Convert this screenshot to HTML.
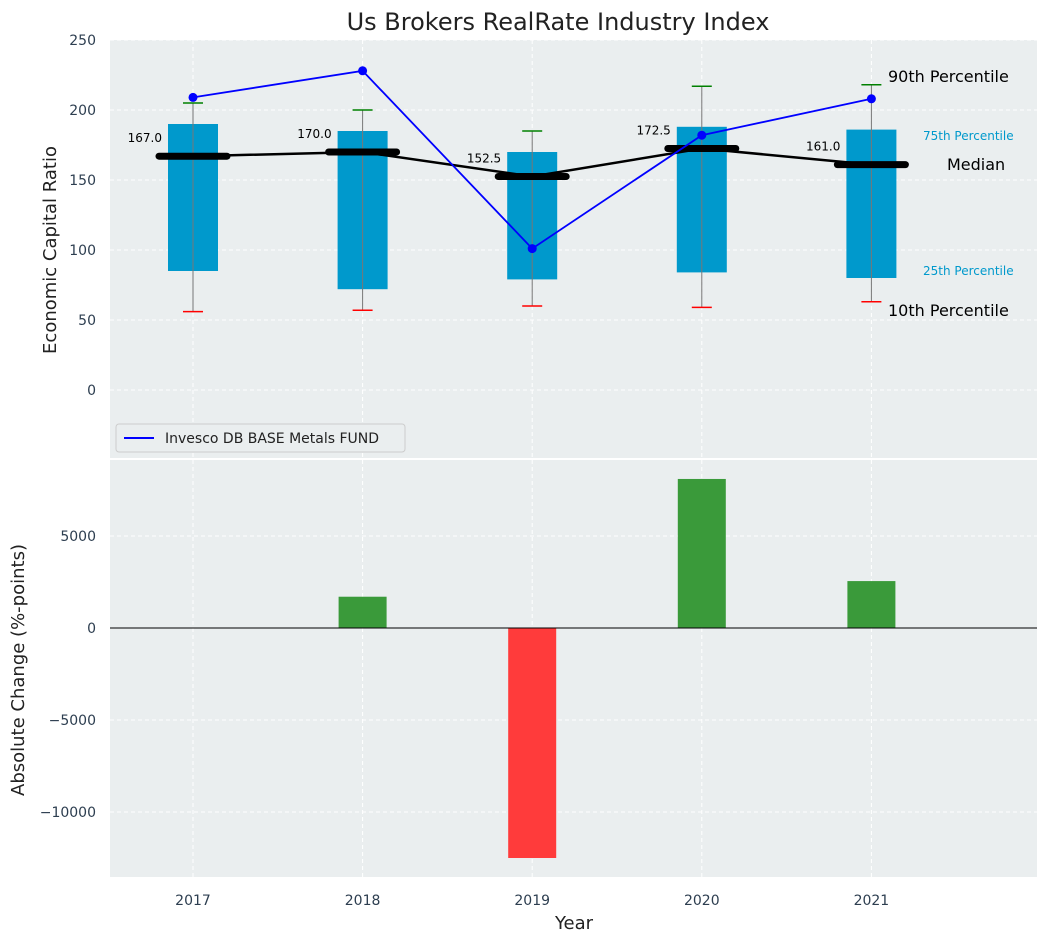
<!DOCTYPE html>
<html><head><meta charset="utf-8"><style>
body{margin:0;background:#fff;font-family:"Liberation Sans","DejaVu Sans",sans-serif;}
</style></head><body>
<svg id="chart" width="1048" height="942" xmlns="http://www.w3.org/2000/svg" font-family="DejaVu Sans, Liberation Sans, sans-serif">
<text x="558" y="30" font-size="24" text-anchor="middle" fill="#222">Us Brokers RealRate Industry Index</text>
<rect x="110" y="40" width="927" height="418" fill="#eaeeef"/>
<rect x="110" y="460" width="927" height="417" fill="#eaeeef"/>
<g id="topg"></g><g id="botg"></g>
<text x="56" y="250" font-size="18" fill="#222" text-anchor="middle" transform="rotate(-90 56 250)">Economic Capital Ratio</text>
<text x="24" y="670" font-size="18" fill="#222" text-anchor="middle" transform="rotate(-90 24 670)">Absolute Change (%-points)</text>
<text x="574" y="929" font-size="18" fill="#222" text-anchor="middle">Year</text>
<g>
<rect x="116" y="424" width="289" height="28" rx="3" fill="#eaeeef" stroke="#ccc"/>
<line x1="124" y1="438" x2="154" y2="438" stroke="blue" stroke-width="2"/>
<text x="165" y="443" font-size="14" fill="#222">Invesco DB BASE Metals FUND</text>
</g>
<text x="888" y="82" font-size="16" fill="#000">90th Percentile</text>
<text x="923" y="140" font-size="12" fill="#0099cc">75th Percentile</text>
<text x="947" y="170" font-size="16" fill="#000">Median</text>
<text x="923" y="275" font-size="12" fill="#0099cc">25th Percentile</text>
<text x="888" y="316" font-size="16" fill="#000">10th Percentile</text>
</svg>
<script>
const years=[2017,2018,2019,2020,2021];
const q1=[85,72,79,84,80];
const q3=[190,185,170,188,186];
const median=[167,170,152.5,172.5,161];
const p10=[56,57,60,59,63];
const p90=[205,200,185,217,218];
const fund=[209,228,101,182,208];
const change=[0,1700,-12500,8100,2550];
const topTicks=[0,50,100,150,200,250];
const botTicks=[-10000,-5000,0,5000];
const NS="http://www.w3.org/2000/svg";
const X=y=>193+(y-2017)*169.6;
const YT=v=>390-v*1.4;
const YB=v=>628-v*0.0184;
function mk(t,a,p,txt){const e=document.createElementNS(NS,t);for(const k in a)e.setAttribute(k,a[k]);if(txt!=null)e.textContent=txt;p.appendChild(e);return e;}
const topG=document.getElementById('topg'),botG=document.getElementById('botg');
topTicks.forEach(t=>{
 const g=mk('line',{x1:110,x2:1037,y1:YT(t),y2:YT(t),stroke:'#fff','stroke-dasharray':'4,3','stroke-width':1},topG);
 
 
 const l=mk('text',{x:96,y:YT(t)+5,'font-size':14,fill:'#2d3e50','text-anchor':'end'},topG,t);
 
 
});
botTicks.forEach(t=>{
 const g=mk('line',{x1:110,x2:1037,y1:YB(t),y2:YB(t),stroke:'#fff','stroke-dasharray':'4,3','stroke-width':1},botG);
 
 
 const l=mk('text',{x:96,y:YB(t)+5,'font-size':14,fill:'#2d3e50','text-anchor':'end'},botG,String(t).replace('-','\u2212'));
 
 
});
years.forEach((y,i)=>{
 [[40,458,topG],[460,877,botG]].forEach(([a,b,p])=>{const g=mk('line',{x1:X(y),x2:X(y),y1:a,y2:b,stroke:'#fff','stroke-dasharray':'4,3'},p);
 
 });
 const l=mk('text',{x:X(y),y:905,'font-size':14,fill:'#2d3e50','text-anchor':'middle'},botG,y);
 
 
});
years.forEach((y,i)=>{
 const x=X(y);
 const b=mk('rect',{x:x-25,y:YT(q3[i]),width:50,height:YT(q1[i])-YT(q3[i]),fill:'#0099cc'},topG);
 
 
 const w=mk('line',{x1:x,x2:x,y1:YT(p10[i]),y2:YT(p90[i]),stroke:'#777','stroke-width':1},topG);
 
 
 const c1=mk('line',{x1:x-10,x2:x+10,y1:YT(p90[i]),y2:YT(p90[i]),stroke:'green','stroke-width':1.5},topG);
 
 
 const c2=mk('line',{x1:x-10,x2:x+10,y1:YT(p10[i]),y2:YT(p10[i]),stroke:'red','stroke-width':1.5},topG);
 
 
});
const ml=mk('polyline',{points:years.map((y,i)=>X(y)+','+YT(median[i])).join(' '),fill:'none',stroke:'#000','stroke-width':2.5},topG);


years.forEach((y,i)=>{
 const m=mk('line',{x1:X(y)-34,x2:X(y)+34,y1:YT(median[i]),y2:YT(median[i]),stroke:'#000','stroke-width':7,'stroke-linecap':'round'},topG);
 
 
 const t=mk('text',{x:X(y)-31,y:YT(median[i])-14,'font-size':12,fill:'#000','text-anchor':'end'},topG,median[i].toFixed(1));
 
 
});
const fl=mk('polyline',{points:years.map((y,i)=>X(y)+','+YT(fund[i])).join(' '),fill:'none',stroke:'blue','stroke-width':1.8},topG);


years.forEach((y,i)=>{
 const c=mk('circle',{cx:X(y),cy:YT(fund[i]),r:4.5,fill:'blue'},topG);
 
 
});
years.forEach((y,i)=>{
 const v=change[i];
 const r=mk('rect',{x:X(y)-24,y:Math.min(YB(v),YB(0)),width:48,height:Math.abs(YB(v)-YB(0)),fill:v>=0?'#3a9a3a':'#ff3b3b'},botG);
 
 
});
const z=mk('line',{x1:110,x2:1037,y1:YB(0),y2:YB(0),stroke:'#000','stroke-width':1},botG);


</script>
</body></html>
